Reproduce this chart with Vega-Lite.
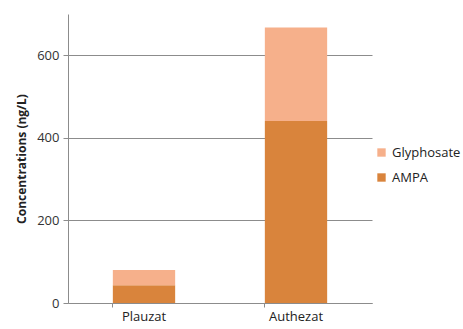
{
  "$schema": "https://vega.github.io/schema/vega-lite/v6.json",
  "width": 304,
  "height": 289,
  "autosize": {"type": "none"},
  "padding": {"left": 68, "top": 14, "right": 91, "bottom": 26},
  "background": "white",
  "config": {
    "view": {"stroke": null},
    "font": "Open Sans"
  },
  "data": {
    "values": [
      {"site": "Plauzat", "compound": "AMPA", "value": 43, "rank": 1},
      {"site": "Plauzat", "compound": "Glyphosate", "value": 37, "rank": 2},
      {"site": "Authezat", "compound": "AMPA", "value": 441, "rank": 1},
      {"site": "Authezat", "compound": "Glyphosate", "value": 226, "rank": 2}
    ]
  },
  "mark": {"type": "bar"},
  "encoding": {
    "x": {
      "field": "site",
      "type": "nominal",
      "sort": ["Plauzat", "Authezat"],
      "scale": {"paddingInner": 0.59, "paddingOuter": 0.295},
      "axis": {
        "title": null,
        "labelAngle": 0,
        "labelFontSize": 13,
        "labelColor": "#222222",
        "labelPadding": 3,
        "domainColor": "#8c8c8c",
        "tickColor": "#8c8c8c",
        "tickSize": 4,
        "bandPosition": 0
      }
    },
    "y": {
      "field": "value",
      "type": "quantitative",
      "stack": "zero",
      "scale": {"domain": [0, 700], "nice": false},
      "axis": {
        "title": "Concentrations (ng/L)",
        "titleFontSize": 12,
        "titleFontWeight": "bold",
        "titleColor": "#222222",
        "titlePadding": 8,
        "values": [0, 200, 400, 600],
        "labelFontSize": 13,
        "labelColor": "#333333",
        "labelPadding": 4,
        "domainColor": "#8c8c8c",
        "tickColor": "#8c8c8c",
        "tickSize": 5,
        "grid": true,
        "gridColor": "#8c8c8c",
        "gridWidth": 1
      }
    },
    "color": {
      "field": "compound",
      "type": "nominal",
      "scale": {"domain": ["Glyphosate", "AMPA"], "range": ["#F6B08B", "#D9843C"]},
      "legend": {
        "title": null,
        "orient": "none",
        "legendX": 307,
        "legendY": 132,
        "symbolType": "square",
        "symbolSize": 70,
        "rowPadding": 11,
        "labelFontSize": 13,
        "labelColor": "#222222",
        "labelOffset": 4
      }
    },
    "order": {"field": "rank", "type": "quantitative"}
  }
}
